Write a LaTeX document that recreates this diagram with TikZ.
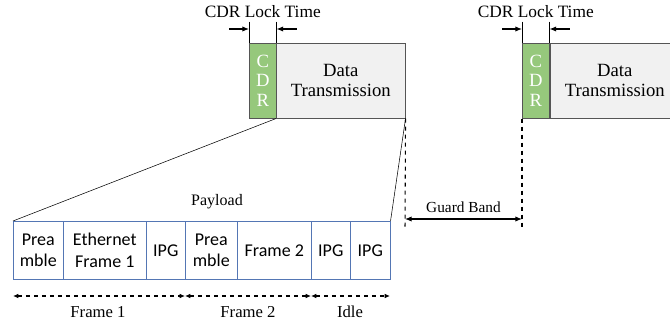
\documentclass[tikz,border=0pt]{standalone}
\usepackage{fontspec}
\setmainfont{Liberation Serif}
\newfontfamily\cellfont{Carlito}
\usetikzlibrary{arrows.meta}
\definecolor{cdrgreen}{RGB}{150,200,124}
\definecolor{datagray}{RGB}{241,241,241}
\definecolor{edgegray}{RGB}{85,85,85}
\definecolor{cellblue}{RGB}{84,118,180}

\begin{document}
\begin{tikzpicture}[x=0.75pt,y=-0.75pt]
\tikzstyle{cdr}=[draw=edgegray, fill=cdrgreen, text=white, anchor=north west, inner sep=0pt, minimum width=20.25pt, minimum height=56.25pt, align=center, font=\fontsize{14}{14.5}\selectfont]
\tikzstyle{data}=[draw=edgegray, fill=datagray, anchor=north west, inner sep=0pt, minimum width=96.75pt, minimum height=56.25pt, align=center, font=\fontsize{14}{15}\selectfont]
\tikzstyle{cell}=[draw=cellblue, anchor=north west, inner sep=0pt, minimum height=43.5pt, align=center, font=\cellfont\fontsize{13.5}{16}\selectfont]
\tikzstyle{lbl}=[inner sep=0pt, font=\fontsize{13}{15}\selectfont]
\tikzstyle{lockarrow}=[-{Latex[length=5pt,width=4pt]}, thick]
\tikzstyle{spanarrow}=[{Latex[length=4pt,width=3.5pt]}-{Latex[length=4pt,width=3.5pt]}, dashed, thick]
\useasboundingbox (0,0) rectangle (670,324);

% two bursts
\node[cdr] (cdr1) at (249,43) {C\\D\\R};
\node[data] (data1) at (276,43) {Data\\Transmission};
\node[cdr] (cdr2) at (522,43) {C\\D\\R};
\node[data] (data2) at (550,43) {Data\\Transmission};

% lock time marks
\foreach \b in {1,2} {
\node[lbl] (lock\b) at ([yshift=23.25pt]cdr\b.north) {CDR Lock Time};
\coordinate (tl\b) at ([yshift=16pt]cdr\b.north west);
\coordinate (tr\b) at ([yshift=16pt]cdr\b.north east);
\draw (tl\b) -- (cdr\b.north west);
\draw (tr\b) -- (cdr\b.north east);
\coordinate (al\b) at ([xshift=-15pt,yshift=10.5pt]cdr\b.north west);
\coordinate (ar\b) at ([xshift=15pt,yshift=10.5pt]cdr\b.north east);
\draw[lockarrow] (al\b) -- (al\b -| cdr\b.west);
\draw[lockarrow] (ar\b) -- (ar\b -| cdr\b.east);
}

% payload cells
\foreach \l/\r/\t [count=\i] in {13/63/{Prea\\mble}, 63/146/{Ethernet\\Frame 1}, 146/185/IPG, 185/237/{Prea\\mble}, 237/311/Frame 2, 311/350/IPG, 350/390/IPG} {
\node[cell, minimum width=(\r-\l)*0.75pt] (c\i) at (\l,221) {\t};
}
\node[lbl, font=\fontsize{12}{14}\selectfont] (payload) at (217,202) {Payload};
\draw (data1.south west) -- (c1.north west);
\draw (data1.south east) -- (c7.north east);

% guard band
\coordinate (g1) at (405,230);
\coordinate (g2) at (522,230);
\draw[dashed, thick] (data1.south east) -- (g1);
\draw[dashed, thick] (cdr2.south west) -- (g2);
\draw[{Latex[length=5pt,width=4pt]}-{Latex[length=5pt,width=4pt]}, thick] (405,219) -- (522,219);
\node[lbl, font=\fontsize{11.5}{14}\selectfont] (guard) at (463.5,207) {Guard Band};

% frame spans
\draw[spanarrow] (13,296) -- (185,296);
\draw[spanarrow] (185,296) -- (311,296);
\draw[spanarrow] (311,296) -- (390,296);
\node[lbl, font=\fontsize{12.5}{14}\selectfont] (f1) at (98,312) {Frame 1};
\node[lbl, font=\fontsize{12.5}{14}\selectfont] (f2) at (248,312) {Frame 2};
\node[lbl, font=\fontsize{12.5}{14}\selectfont] (idle) at (350,312) {Idle};
\end{tikzpicture}
\end{document}
